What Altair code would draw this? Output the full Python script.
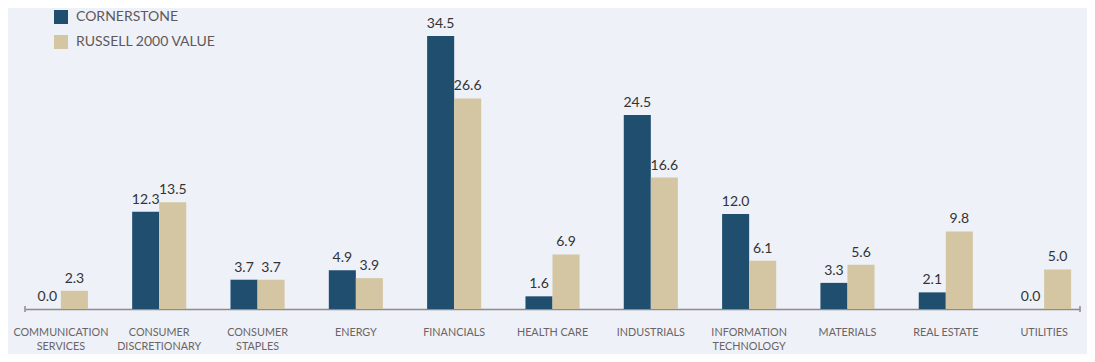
import altair as alt
import pandas as pd

categories = [
    "COMMUNICATION|SERVICES", "CONSUMER|DISCRETIONARY", "CONSUMER|STAPLES", "ENERGY",
    "FINANCIALS", "HEALTH CARE", "INDUSTRIALS", "INFORMATION|TECHNOLOGY",
    "MATERIALS", "REAL ESTATE", "UTILITIES",
]
cornerstone = [0.0, 12.3, 3.7, 4.9, 34.5, 1.6, 24.5, 12.0, 3.3, 2.1, 0.0]
russell = [2.3, 13.5, 3.7, 3.9, 26.6, 6.9, 16.6, 6.1, 5.6, 9.8, 5.0]
series = ["CORNERSTONE", "RUSSELL 2000 VALUE"]
colors = ["#1f4e6f", "#d4c6a2"]

rows = []
for c, a, b in zip(categories, cornerstone, russell):
    rows.append({"sector": c, "series": series[0], "value": a})
    rows.append({"sector": c, "series": series[1], "value": b})
df = pd.DataFrame(rows)

W, H = 1055, 285
FONT = "Lato"

x = alt.X(
    "sector:N", sort=categories, title=None,
    scale=alt.Scale(paddingInner=0.45, paddingOuter=0.09),
    axis=alt.Axis(
        labelExpr="split(datum.label, '|')", labelAngle=0, ticks=False,
        domainColor="#8c8c8c", domainWidth=1.5, labelColor="#6b6464",
        labelFontSize=10.8, labelFont=FONT, labelPadding=17, labelLineHeight=14,
        labelLimit=0, labelOverlap=False, labelBaseline="top",
    ),
)
y = alt.Y("value:Q", scale=alt.Scale(domain=[0, 36], nice=False), axis=None)
xo = alt.XOffset("series:N", sort=series, scale=alt.Scale(paddingInner=0, paddingOuter=0))

base = alt.Chart(df)
bars = base.mark_bar().encode(
    x=x, y=y, xOffset=xo,
    color=alt.Color(
        "series:N", sort=series,
        scale=alt.Scale(domain=series, range=colors),
        legend=alt.Legend(
            title=None, orient="none", legendX=29, legendY=-14,
            symbolType="square", symbolSize=196, symbolStrokeWidth=0,
            symbolOpacity=1, labelFont=FONT, labelFontSize=14,
            labelColor="#5e5858", labelOffset=8, rowPadding=11, padding=0,
        ),
    ),
)
labels = base.mark_text(
    dy=-8, baseline="alphabetic", fontSize=14, font=FONT, color="#333333"
).encode(x=x, y=y, xOffset=xo, text=alt.Text("value:Q", format=".1f"))

tick_src = alt.Chart(pd.DataFrame({"p": [0]}))
tick_left = tick_src.mark_rule(color="#8c8c8c", strokeWidth=1.5).encode(
    x=alt.value(0), y=alt.value(H - 3), y2=alt.value(H + 3))
tick_right = tick_src.mark_rule(color="#8c8c8c", strokeWidth=1.5).encode(
    x=alt.value(W), y=alt.value(H - 3), y2=alt.value(H + 3))

chart = alt.layer(bars, labels, tick_left, tick_right).properties(
    width=W, height=H, background="#eef1f8",
    autosize=alt.AutoSizeParams(type="none"),
    padding={"left": 17, "top": 16, "right": 7, "bottom": 45},
).configure_view(stroke=None)

chart.save("out.html", embed_options={"renderer": "svg", "actions": False})
